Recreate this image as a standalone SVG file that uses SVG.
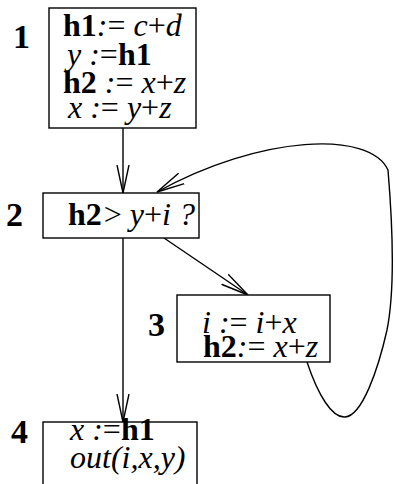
<svg xmlns="http://www.w3.org/2000/svg" width="395" height="484" viewBox="0 0 395 484">
<style>
text{font-family:"Liberation Serif","Times New Roman",serif;font-size:32px;fill:#000}
.b{font-weight:bold}
.i{font-style:italic}
.lbl{font-weight:bold;font-size:34px}
.box{fill:#fff;stroke:#000;stroke-width:1.4}
.edge{fill:none;stroke:#000;stroke-width:1.4}
</style>
<defs>
<marker id="arr" markerUnits="userSpaceOnUse" markerWidth="30" markerHeight="14" refX="28" refY="7" orient="auto" viewBox="0 0 30 14">
<path d="M0,1 L28,7 L0,13" fill="none" stroke="#000" stroke-width="1.4"/>
</marker>
</defs>
<rect width="395" height="484" fill="#fff"/>
<g id="connectors">
<line class="edge" x1="123" y1="128" x2="123" y2="193" marker-end="url(#arr)"/>
<line class="edge" x1="123" y1="238" x2="123" y2="422" marker-end="url(#arr)"/>
<line class="edge" x1="164" y1="238" x2="248" y2="295" marker-end="url(#arr)"/>
<path class="edge" d="M307,362 C318,395 332,418 345,417 C362,416 378,370 387,330 C395,290 393,230 388,170 C370,130 260,135 157,192" marker-end="url(#arr)"/>
</g>
<g id="node1">
<rect class="box" x="49" y="8" width="147" height="120"/>
<text class="lbl" x="13" y="48">1</text>
<text x="63" y="36"><tspan class="b">h1</tspan><tspan class="i">:</tspan>= <tspan class="i">c</tspan>+<tspan class="i">d</tspan></text>
<text x="67" y="65"><tspan class="i">y :</tspan>=<tspan class="b">h1</tspan></text>
<text x="63" y="93"><tspan class="b">h2</tspan><tspan class="i"> :</tspan>= <tspan class="i">x</tspan>+<tspan class="i">z</tspan></text>
<text x="68" y="118"><tspan class="i">x :</tspan>= <tspan class="i">y</tspan>+<tspan class="i">z</tspan></text>
</g>
<g id="node2">
<rect class="box" x="43" y="193" width="156" height="45"/>
<text class="lbl" x="6" y="226">2</text>
<text x="68" y="225"><tspan class="b">h2</tspan><tspan dx="2">&gt; </tspan><tspan class="i">y</tspan>+<tspan class="i">i ?</tspan></text>
</g>
<g id="node3">
<rect class="box" x="177" y="295" width="153" height="67"/>
<text class="lbl" x="148" y="336">3</text>
<text x="202" y="333"><tspan class="i">i :</tspan>= <tspan class="i">i</tspan>+<tspan class="i">x</tspan></text>
<text x="203" y="357"><tspan class="b">h2</tspan><tspan class="i">:</tspan>= <tspan class="i">x</tspan>+<tspan class="i">z</tspan></text>
</g>
<g id="node4">
<rect class="box" x="43" y="422" width="154" height="80"/>
<text class="lbl" x="11" y="443">4</text>
<text x="70" y="440"><tspan class="i">x :</tspan>=<tspan class="b">h1</tspan></text>
<text class="i" x="70" y="468">out(i,x,y)</text>
</g>
</svg>
